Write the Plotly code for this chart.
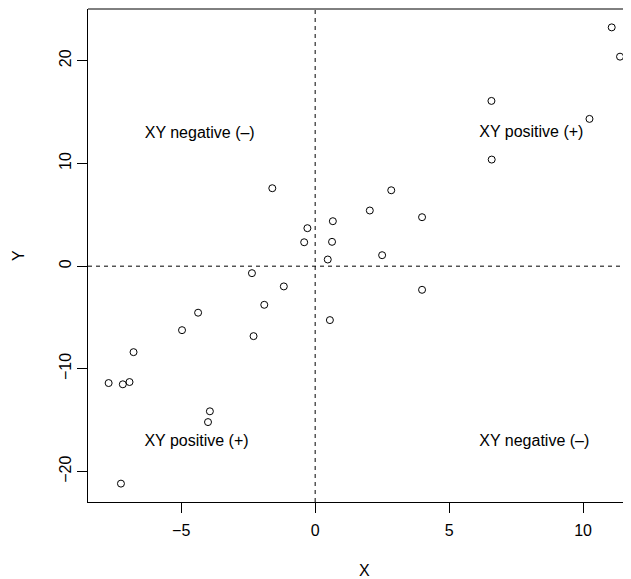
import plotly.graph_objects as go

x_vals = [-7.71, -7.18, -6.93, -6.78, -7.25, -3.93, -4.00, -4.97, -4.37, -2.30,
          -1.90, -1.17, -2.36, -1.60, -0.29, -0.41, 0.66, 0.63, 0.47, 0.55,
          2.04, 2.84, 2.50, 3.99, 3.99, 6.59, 6.58, 10.24, 11.07, 11.38]
y_vals = [-11.38, -11.50, -11.28, -8.37, -21.17, -14.13, -15.18, -6.23, -4.53, -6.81,
          -3.76, -1.97, -0.68, 7.59, 3.70, 2.33, 4.38, 2.37, 0.65, -5.25,
          5.42, 7.39, 1.07, 4.77, -2.30, 10.38, 16.09, 14.34, 23.25, 20.40]

x_ticks = [-5, 0, 5, 10]
y_ticks = [-20, -10, 0, 10, 20]

label_text = ["XY negative (\u2013)", "XY positive (+)", "XY positive (+)", "XY negative (\u2013)"]
label_x = [-4.31, 8.07, -4.43, 8.18]
label_y = [12.9, 12.95, -17.1, -17.1]

FONT = "Liberation Sans, Arial, Helvetica, sans-serif"

fig = go.Figure()
fig.add_trace(go.Scatter(
    x=x_vals, y=y_vals, mode="markers",
    marker=dict(symbol="circle-open", size=7, color="black", line=dict(width=1, color="black")),
    showlegend=False, cliponaxis=False,
))
fig.add_trace(go.Scatter(
    x=label_x, y=label_y, mode="text", text=label_text,
    textfont=dict(family=FONT, size=16, color="black"),
    showlegend=False, hoverinfo="skip",
))

fig.add_vline(x=0, line=dict(color="black", width=1, dash="4px,4px"))
fig.add_hline(y=0, line=dict(color="black", width=1, dash="4px,4px"))
# top border of the box
fig.add_shape(type="line", xref="paper", yref="paper", x0=0, x1=1, y0=1, y1=1,
              line=dict(color="black", width=1))

fig.update_layout(
    width=623, height=571,
    margin=dict(l=80, r=0, t=1, b=77, autoexpand=False),
    paper_bgcolor="white", plot_bgcolor="white",
    font=dict(family=FONT, size=16, color="black"),
    xaxis=dict(range=[-8.48, 11.79], tickvals=x_ticks, ticktext=[str(v).replace("-", "\u2212") for v in x_ticks],
               showgrid=False, zeroline=False, showline=True, linecolor="black", linewidth=1,
               ticks="outside", ticklen=10, tickcolor="black", tickwidth=1,
               ticklabelstandoff=4, tickfont=dict(size=16), automargin=False),
    yaxis=dict(range=[-22.96, 25.04], tickvals=y_ticks, ticktext=[str(v).replace("-", "\u2212") for v in y_ticks],
               showgrid=False, zeroline=False, showline=True, linecolor="black", linewidth=1,
               ticks="outside", ticklen=10, tickcolor="black", tickwidth=1,
               tickangle=-90, ticklabelstandoff=0, tickfont=dict(size=16), automargin=False),
    annotations=[
        dict(text="X", xref="paper", yref="paper", x=0.509, y=-0.138,
             showarrow=False, font=dict(size=16), xanchor="center", yanchor="middle"),
        dict(text="Y", xref="paper", yref="paper", x=-0.127, y=0.499, textangle=-90,
             showarrow=False, font=dict(size=16), xanchor="center", yanchor="middle"),
    ],
)

fig.write_html("out.html")
